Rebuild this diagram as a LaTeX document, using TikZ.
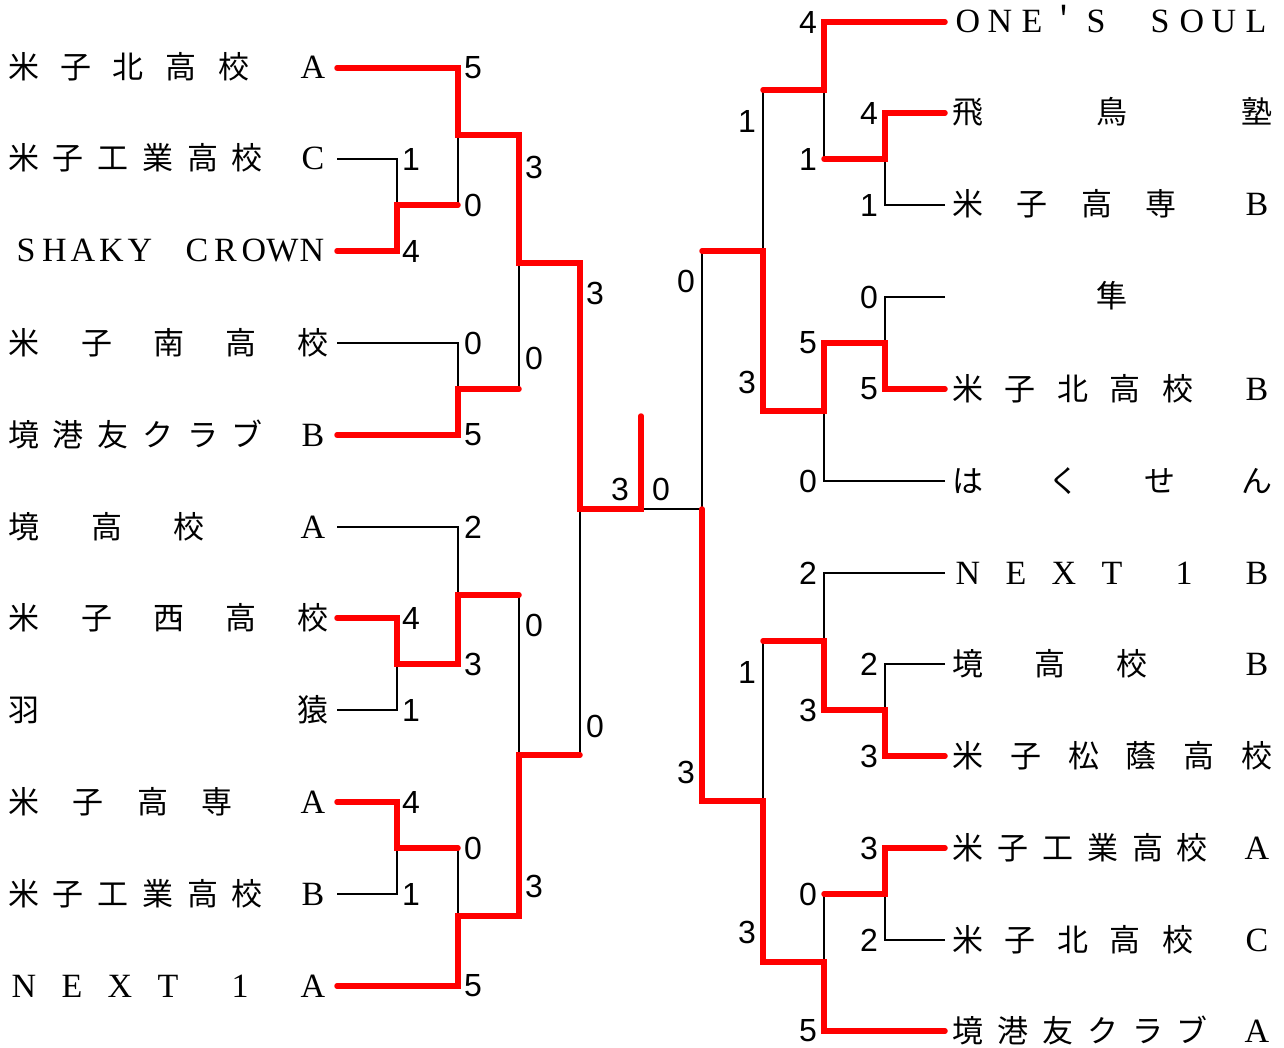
\documentclass[tikz,border=0pt]{standalone}
\usepackage{fontspec}
\newfontfamily\jp{Noto Sans CJK JP}
\newfontfamily\lat{Liberation Serif}
\newfontfamily\scf{Liberation Sans}
\tikzset{
  jt/.style={font=\jp\fontsize{31}{31}\selectfont, anchor=base, inner sep=0pt},
  lt/.style={font=\lat\fontsize{34}{34}\selectfont, anchor=base, inner sep=0pt},
  sc/.style={font=\scf\fontsize{32}{32}\selectfont, anchor=center, inner sep=0pt},
  win/.style={draw=red, line width=5.5pt, line cap=round, line join=miter},
  lose/.style={draw=black, line width=1.3pt},
}
\newcommand\jrow[2]{\foreach \x/\c in {#2}{\node[jt] (j-#1-\x) at (\x,#1+11) {\c};}}
\newcommand\lrow[2]{\foreach \x/\c in {#2}{\node[lt] (l-#1-\x) at (\x,#1+11) {\c};}}
\newcommand\scores[1]{\foreach \x/\y/\s in {#1}{\node[sc] (s-\x-\y) at (\x,\y) {\s};}}
\begin{document}
\begin{tikzpicture}[x=1pt,y=-1pt]
\fill[white] (0,0) rectangle (1284,1048);
\useasboundingbox (0,0) rectangle (1284,1048);

% ---------- left names ----------
\jrow{68}{24/米,76/子,128/北,181/高,234/校}\lrow{68}{313/A}
\jrow{159}{24/米,68/子,113/工,158/業,203/高,247/校}\lrow{159}{313/C}
\lrow{251}{26/S,54.5/H,83/A,111.5/K,140/Y,197/C,225.5/R,254/O,282.5/W,312/N}
\jrow{343}{24/米,97/子,169/南,241/高,313/校}
\jrow{435}{24/境,68/港,113/友,158/ク,203/ラ,247/ブ}\lrow{435}{313/B}
\jrow{527}{24/境,107/高,189/校}\lrow{527}{313/A}
\jrow{618}{24/米,97/子,169/西,241/高,313/校}
\jrow{710}{24/羽,313/猿}
\jrow{802}{24/米,88/子,153/高,217/専}\lrow{802}{313/A}
\jrow{894}{24/米,68/子,113/工,158/業,203/高,247/校}\lrow{894}{313/B}
\lrow{986}{24/N,72/E,120/X,168/T,240/1,313/A}

% ---------- right names ----------
\lrow{22}{968/O,1000/N,1032/E,1096/S,1160/S,1192/O,1224/U,1256/L}\jrow{22}{1064/＇}
\jrow{113}{968/飛,1112/鳥,1257/塾}
\jrow{205}{968/米,1032/子,1097/高,1161/専}\lrow{205}{1257/B}
\jrow{297}{1112/隼}
\jrow{389}{968/米,1020/子,1073/北,1125/高,1178/校}\lrow{389}{1257/B}
\jrow{481}{968/は,1064/く,1160/せ,1257/ん}
\lrow{573}{968/N,1016/E,1064/X,1112/T,1184/1,1257/B}
\jrow{664}{968/境,1050/高,1132/校}\lrow{664}{1257/B}
\jrow{756}{968/米,1026/子,1084/松,1141/蔭,1199/高,1257/校}
\jrow{848}{968/米,1013/子,1058/工,1103/業,1148/高,1192/校}\lrow{848}{1257/A}
\jrow{940}{968/米,1020/子,1073/北,1125/高,1178/校}\lrow{940}{1257/C}
\jrow{1031}{968/境,1013/港,1058/友,1103/ク,1148/ラ,1192/ブ}\lrow{1031}{1257/A}

% ---------- losing (black) lines ----------
\draw[lose] (337,159) -- (397,159) -- (397,205);
\draw[lose] (458,135) -- (458,205);
\draw[lose] (337,343) -- (458,343) -- (458,389);
\draw[lose] (519,263) -- (519,389);
\draw[lose] (337,527) -- (458,527) -- (458,595);
\draw[lose] (337,710) -- (397,710) -- (397,664);
\draw[lose] (337,894) -- (397,894) -- (397,848);
\draw[lose] (458,848) -- (458,916);
\draw[lose] (519,595) -- (519,755);
\draw[lose] (580,509) -- (580,755);
\draw[lose] (641,509) -- (702,509);
\draw[lose] (824,90) -- (824,159);
\draw[lose] (945,205) -- (885,205) -- (885,159);
\draw[lose] (763,90) -- (763,251);
\draw[lose] (945,297) -- (885,297) -- (885,343);
\draw[lose] (945,481) -- (824,481) -- (824,411);
\draw[lose] (702,251) -- (702,509);
\draw[lose] (945,573) -- (824,573) -- (824,641);
\draw[lose] (945,664) -- (885,664) -- (885,710);
\draw[lose] (763,641) -- (763,801);
\draw[lose] (945,940) -- (885,940) -- (885,894);
\draw[lose] (824,894) -- (824,962);

% ---------- winning (red) lines ----------
\draw[win] (337,68) -- (458,68) -- (458,135) -- (519,135) -- (519,263) -- (580,263) -- (580,509) -- (641,509) -- (641,416);
\draw[win] (337,251) -- (397,251) -- (397,205) -- (458,205);
\draw[win] (337,435) -- (458,435) -- (458,389) -- (519,389);
\draw[win] (337,618) -- (397,618) -- (397,664) -- (458,664) -- (458,595) -- (519,595);
\draw[win] (337,802) -- (397,802) -- (397,848) -- (458,848);
\draw[win] (337,986) -- (458,986) -- (458,916) -- (519,916) -- (519,755) -- (580,755);
\draw[win] (945,22) -- (824,22) -- (824,90) -- (763,90);
\draw[win] (945,113) -- (885,113) -- (885,159) -- (824,159);
\draw[win] (945,389) -- (885,389) -- (885,343) -- (824,343) -- (824,411) -- (763,411) -- (763,251) -- (702,251);
\draw[win] (945,756) -- (885,756) -- (885,710) -- (824,710) -- (824,641) -- (763,641);
\draw[win] (945,848) -- (885,848) -- (885,894) -- (824,894);
\draw[win] (945,1031) -- (824,1031) -- (824,962) -- (763,962) -- (763,801) -- (702,801) -- (702,509);

% ---------- scores ----------
\scores{473/68/5, 411/159/1, 473/205/0, 411/251/4, 534/167/3, 595/293/3, 473/343/0, 534/358/0, 473/435/5, 620/489/3, 661/489/0, 473/527/2, 411/618/4, 534/625/0, 473/664/3, 411/710/1, 595/726/0, 411/802/4, 473/848/0, 534/886/3, 411/894/1, 473/986/5}
\scores{808/22/4, 869/113/4, 747/121/1, 808/159/1, 869/205/1, 686/281/0, 869/297/0, 808/343/5, 747/382/3, 869/389/5, 808/481/0, 808/573/2, 869/664/2, 747/672/1, 808/710/3, 869/756/3, 686/772/3, 869/848/3, 808/894/0, 747/932/3, 869/940/2, 808/1031/5}
\end{tikzpicture}
\end{document}
